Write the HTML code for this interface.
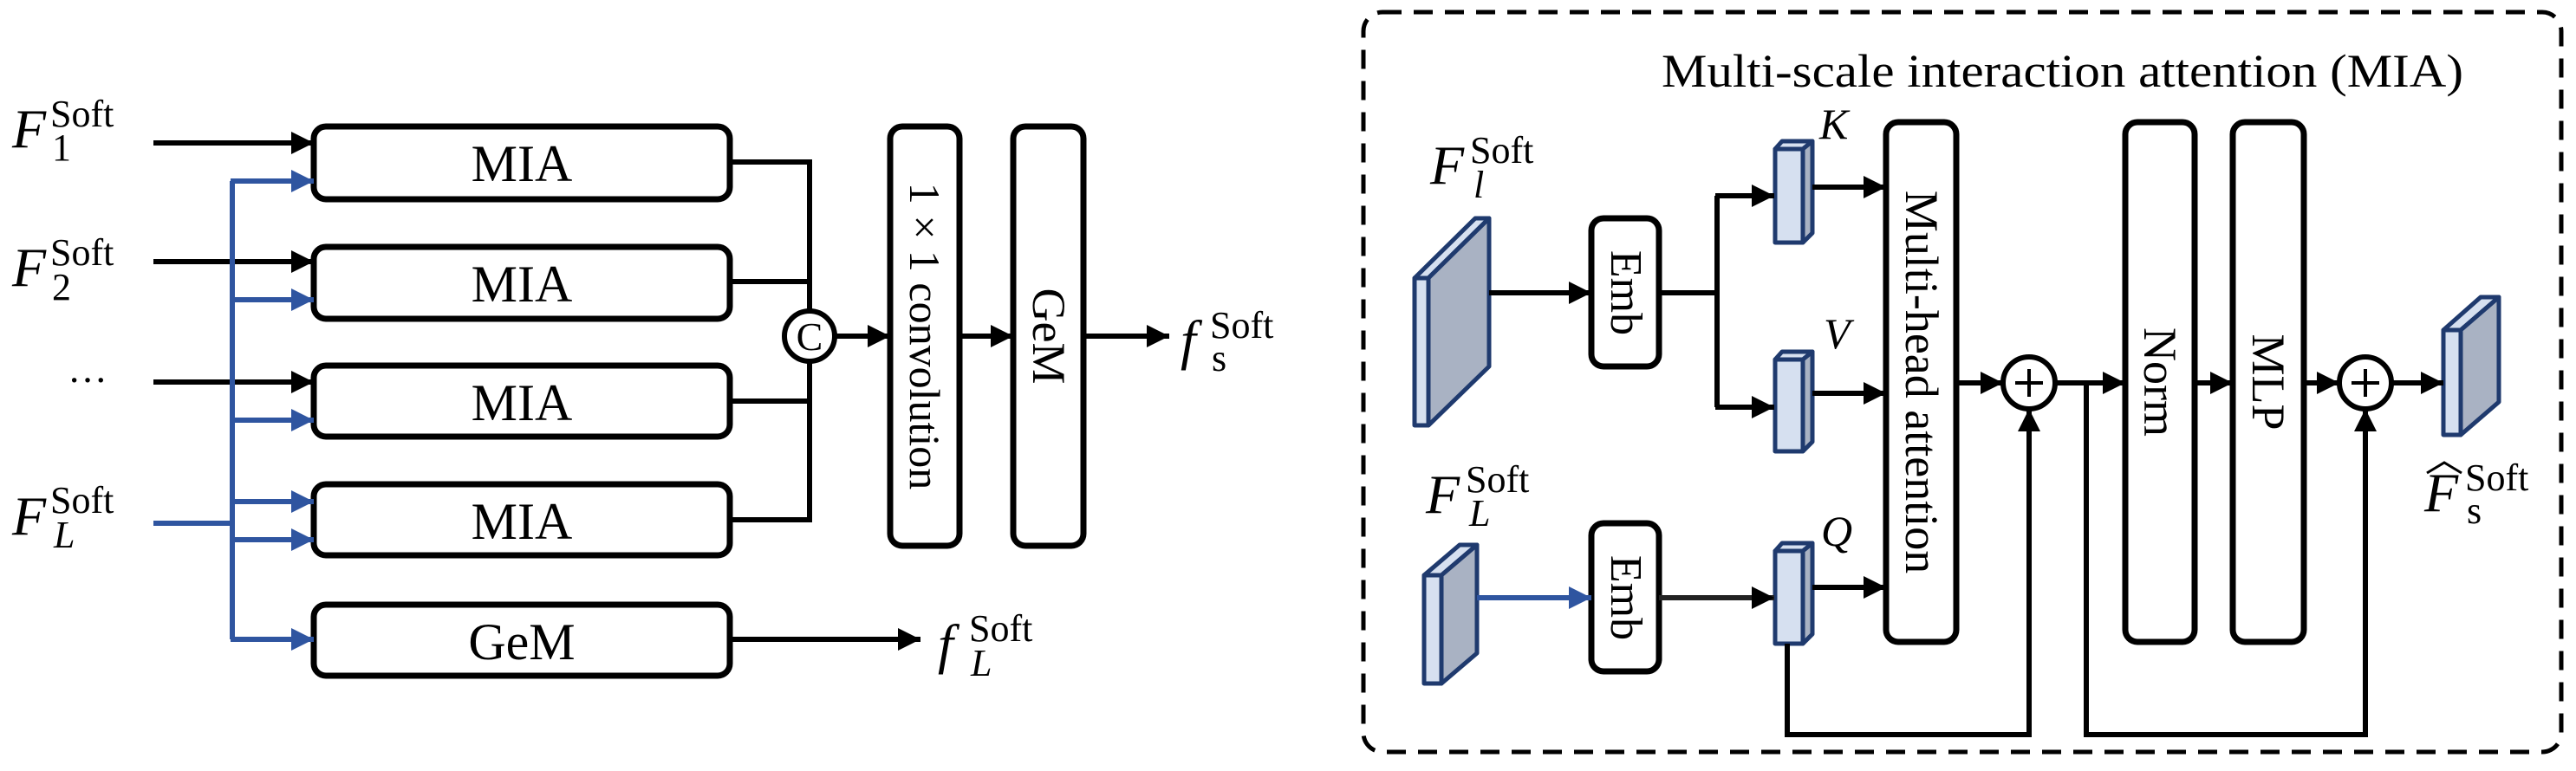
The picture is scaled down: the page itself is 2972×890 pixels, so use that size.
<!DOCTYPE html>
<html><head><meta charset="utf-8"><style>
html,body{margin:0;padding:0;background:#fff;}
svg{display:block;}
text{font-family:"Liberation Serif",serif;fill:#000;}
</style></head><body>
<svg width="2972" height="890" viewBox="0 0 2972 890" xmlns="http://www.w3.org/2000/svg">
<defs>
<marker id="ab" markerUnits="userSpaceOnUse" markerWidth="28" markerHeight="26" refX="26" refY="13" orient="auto"><path d="M0,0 L26,13 L0,26 z" fill="#000"/></marker>
<marker id="abl" markerUnits="userSpaceOnUse" markerWidth="28" markerHeight="26" refX="26" refY="13" orient="auto"><path d="M0,0 L26,13 L0,26 z" fill="#2f55a0"/></marker>
</defs>

<!-- LEFT PART -->
<g fill="none" stroke="#000" stroke-width="7">
<rect x="362" y="146" width="480" height="84" rx="14"/>
<rect x="362" y="285" width="480" height="83" rx="14"/>
<rect x="362" y="422" width="480" height="82" rx="14"/>
<rect x="362" y="559" width="480" height="82" rx="14"/>
<rect x="362" y="698" width="480" height="82" rx="14"/>
<rect x="1027" y="146" width="80" height="484" rx="14"/>
<rect x="1169" y="146" width="81" height="484" rx="14"/>
</g>
<g stroke="#000" stroke-width="6" fill="none">
<line x1="177" y1="165" x2="362" y2="165" marker-end="url(#ab)"/>
<line x1="177" y1="302" x2="362" y2="302" marker-end="url(#ab)"/>
<line x1="177" y1="441" x2="362" y2="441" marker-end="url(#ab)"/>
<polyline points="842,187 934,187 934,600 842,600"/>
<line x1="842" y1="325" x2="934" y2="325"/>
<line x1="842" y1="463" x2="934" y2="463"/>
<line x1="963" y1="388" x2="1027" y2="388" marker-end="url(#ab)"/>
<line x1="1107" y1="388" x2="1169" y2="388" marker-end="url(#ab)"/>
<line x1="1250" y1="388" x2="1349" y2="388" marker-end="url(#ab)"/>
<line x1="842" y1="738" x2="1062" y2="738" marker-end="url(#ab)"/>
</g>
<circle cx="934" cy="388" r="29" fill="#fff" stroke="#000" stroke-width="6"/>
<text x="934" y="404" font-size="46" text-anchor="middle">C</text>
<g stroke="#2f55a0" stroke-width="6" fill="none">
<line x1="177" y1="604" x2="268" y2="604"/>
<line x1="268" y1="209" x2="268" y2="738"/>
<line x1="266" y1="209" x2="362" y2="209" marker-end="url(#abl)"/>
<line x1="266" y1="346" x2="362" y2="346" marker-end="url(#abl)"/>
<line x1="266" y1="485" x2="362" y2="485" marker-end="url(#abl)"/>
<line x1="266" y1="579" x2="362" y2="579" marker-end="url(#abl)"/>
<line x1="266" y1="623" x2="362" y2="623" marker-end="url(#abl)"/>
<line x1="266" y1="738" x2="362" y2="738" marker-end="url(#abl)"/>
</g>
<g font-size="60" text-anchor="middle">
<text x="602" y="209">MIA</text>
<text x="602" y="348">MIA</text>
<text x="602" y="485">MIA</text>
<text x="602" y="622">MIA</text>
<text x="602" y="761">GeM</text>
</g>
<text transform="translate(1050,388) rotate(90)" font-size="50" text-anchor="middle">1 × 1 convolution</text>
<text transform="translate(1192,388) rotate(90)" font-size="54" text-anchor="middle">GeM</text>
<!-- left labels -->
<g>
<text x="14" y="170" font-size="64" font-style="italic">F</text>
<text x="58" y="146" font-size="44">Soft</text>
<text x="60" y="185" font-size="44">1</text>
<text x="14" y="330" font-size="64" font-style="italic">F</text>
<text x="58" y="306" font-size="44">Soft</text>
<text x="60" y="346" font-size="44">2</text>
<text x="78" y="454" font-size="46">···</text>
<text x="14" y="617" font-size="64" font-style="italic">F</text>
<text x="58" y="592" font-size="44">Soft</text>
<text x="62" y="632" font-size="44" font-style="italic">L</text>
<text x="1362" y="414" font-size="64" font-style="italic">f</text>
<text x="1396" y="390" font-size="44">Soft</text>
<text x="1398" y="428" font-size="44">s</text>
<text x="1082" y="765" font-size="64" font-style="italic">f</text>
<text x="1118" y="740" font-size="44">Soft</text>
<text x="1120" y="780" font-size="44" font-style="italic">L</text>
</g>

<!-- RIGHT PART -->
<rect x="1573" y="14" width="1382" height="854" rx="22" fill="none" stroke="#000" stroke-width="5" stroke-dasharray="22,14"/>
<text x="1917" y="100" font-size="54" textLength="925" lengthAdjust="spacingAndGlyphs">Multi-scale interaction attention (MIA)</text>

<g fill="none" stroke="#000" stroke-width="7">
<rect x="1836" y="252" width="78" height="171" rx="14"/>
<rect x="1836" y="604" width="78" height="171" rx="14"/>
<rect x="2176" y="141" width="81" height="600" rx="14"/>
<rect x="2452" y="141" width="80" height="600" rx="14"/>
<rect x="2576" y="141" width="82" height="600" rx="14"/>
</g>
<text transform="translate(1859,338) rotate(90)" font-size="52" text-anchor="middle">Emb</text>
<text transform="translate(1859,690) rotate(90)" font-size="52" text-anchor="middle">Emb</text>
<text transform="translate(2199,441) rotate(90)" font-size="54" text-anchor="middle">Multi-head attention</text>
<text transform="translate(2474,441) rotate(90)" font-size="54" text-anchor="middle">Norm</text>
<text transform="translate(2599,441) rotate(90)" font-size="54" text-anchor="middle">MLP</text>

<!-- tensors -->
<g stroke="#1f3a6e" stroke-width="5" stroke-linejoin="round">
<polygon points="1632,321 1702,252 1718,252 1648,321" fill="#d6e0f0"/>
<polygon points="1648,321 1718,252 1718,423 1648,491" fill="#a9b2c3"/>
<rect x="1632" y="321" width="16" height="170" fill="#d6e0f0"/>
<polygon points="1643,664 1684,629 1704,629 1663,664" fill="#d6e0f0"/>
<polygon points="1663,664 1704,629 1704,754 1663,789" fill="#a9b2c3"/>
<rect x="1643" y="664" width="20" height="125" fill="#d6e0f0"/>
<polygon points="2819,381 2862,343 2883,343 2839,381" fill="#d6e0f0"/>
<polygon points="2839,381 2883,343 2883,464 2839,502" fill="#a9b2c3"/>
<rect x="2819" y="381" width="20" height="121" fill="#d6e0f0"/>
<polygon points="2048,172 2056,163 2091,163 2080,172" fill="#d6e0f0"/>
<polygon points="2080,172 2091,163 2091,269 2080,280" fill="#a9b2c3"/>
<rect x="2048" y="172" width="32" height="108" fill="#d6e0f0"/>
<polygon points="2048,415 2056,406 2091,406 2080,415" fill="#d6e0f0"/>
<polygon points="2080,415 2091,406 2091,510 2080,521" fill="#a9b2c3"/>
<rect x="2048" y="415" width="32" height="106" fill="#d6e0f0"/>
<polygon points="2048,636 2056,627 2091,627 2080,636" fill="#d6e0f0"/>
<polygon points="2080,636 2091,627 2091,732 2080,743" fill="#a9b2c3"/>
<rect x="2048" y="636" width="32" height="107" fill="#d6e0f0"/>
</g>

<g stroke="#000" stroke-width="6" fill="none">
<line x1="1718" y1="338" x2="1836" y2="338" marker-end="url(#ab)"/>
<line x1="1914" y1="338" x2="1981" y2="338"/>
<polyline points="1981,226 1981,470"/>
<line x1="1979" y1="226" x2="2047" y2="226" marker-end="url(#ab)"/>
<line x1="1979" y1="470" x2="2047" y2="470" marker-end="url(#ab)"/>
<line x1="1914" y1="690" x2="2047" y2="690" stroke="#222" marker-end="url(#ab)"/>
<line x1="2091" y1="216" x2="2176" y2="216" marker-end="url(#ab)"/>
<line x1="2091" y1="454" x2="2176" y2="454" marker-end="url(#ab)"/>
<line x1="2091" y1="678" x2="2176" y2="678" marker-end="url(#ab)"/>
<line x1="2257" y1="442" x2="2311" y2="442" marker-end="url(#ab)"/>
<polyline points="2062,743 2062,848 2341,848 2341,472" marker-end="url(#ab)"/>
<line x1="2371" y1="442" x2="2452" y2="442" marker-end="url(#ab)"/>
<polyline points="2407,442 2407,848 2729,848 2729,472" marker-end="url(#ab)"/>
<line x1="2532" y1="442" x2="2576" y2="442" marker-end="url(#ab)"/>
<line x1="2658" y1="442" x2="2699" y2="442" marker-end="url(#ab)"/>
<line x1="2759" y1="442" x2="2819" y2="442" marker-end="url(#ab)"/>
</g>
<line x1="1704" y1="690" x2="1836" y2="690" stroke="#2f55a0" stroke-width="6" marker-end="url(#abl)"/>

<g stroke="#000" stroke-width="6" fill="#fff">
<circle cx="2341" cy="442" r="30"/>
<circle cx="2729" cy="442" r="30"/>
</g>
<g stroke="#000" stroke-width="4">
<line x1="2325" y1="442" x2="2357" y2="442"/><line x1="2341" y1="426" x2="2341" y2="458"/>
<line x1="2713" y1="442" x2="2745" y2="442"/><line x1="2729" y1="426" x2="2729" y2="458"/>
</g>

<!-- right labels -->
<text x="1650" y="212" font-size="64" font-style="italic">F</text>
<text x="1696" y="188" font-size="44">Soft</text>
<text x="1700" y="228" font-size="44" font-style="italic">l</text>
<text x="1645" y="592" font-size="64" font-style="italic">F</text>
<text x="1691" y="568" font-size="44">Soft</text>
<text x="1695" y="607" font-size="44" font-style="italic">L</text>
<text x="2099" y="160" font-size="50" font-style="italic">K</text>
<text x="2104" y="402" font-size="50" font-style="italic">V</text>
<text x="2101" y="630" font-size="50" font-style="italic">Q</text>
<text x="2797" y="590" font-size="64" font-style="italic">F</text>
<path d="M2800,546 L2820,534 L2840,546" fill="none" stroke="#000" stroke-width="3"/>
<text x="2844" y="566" font-size="44">Soft</text>
<text x="2846" y="604" font-size="44">s</text>
</svg>
</body></html>
